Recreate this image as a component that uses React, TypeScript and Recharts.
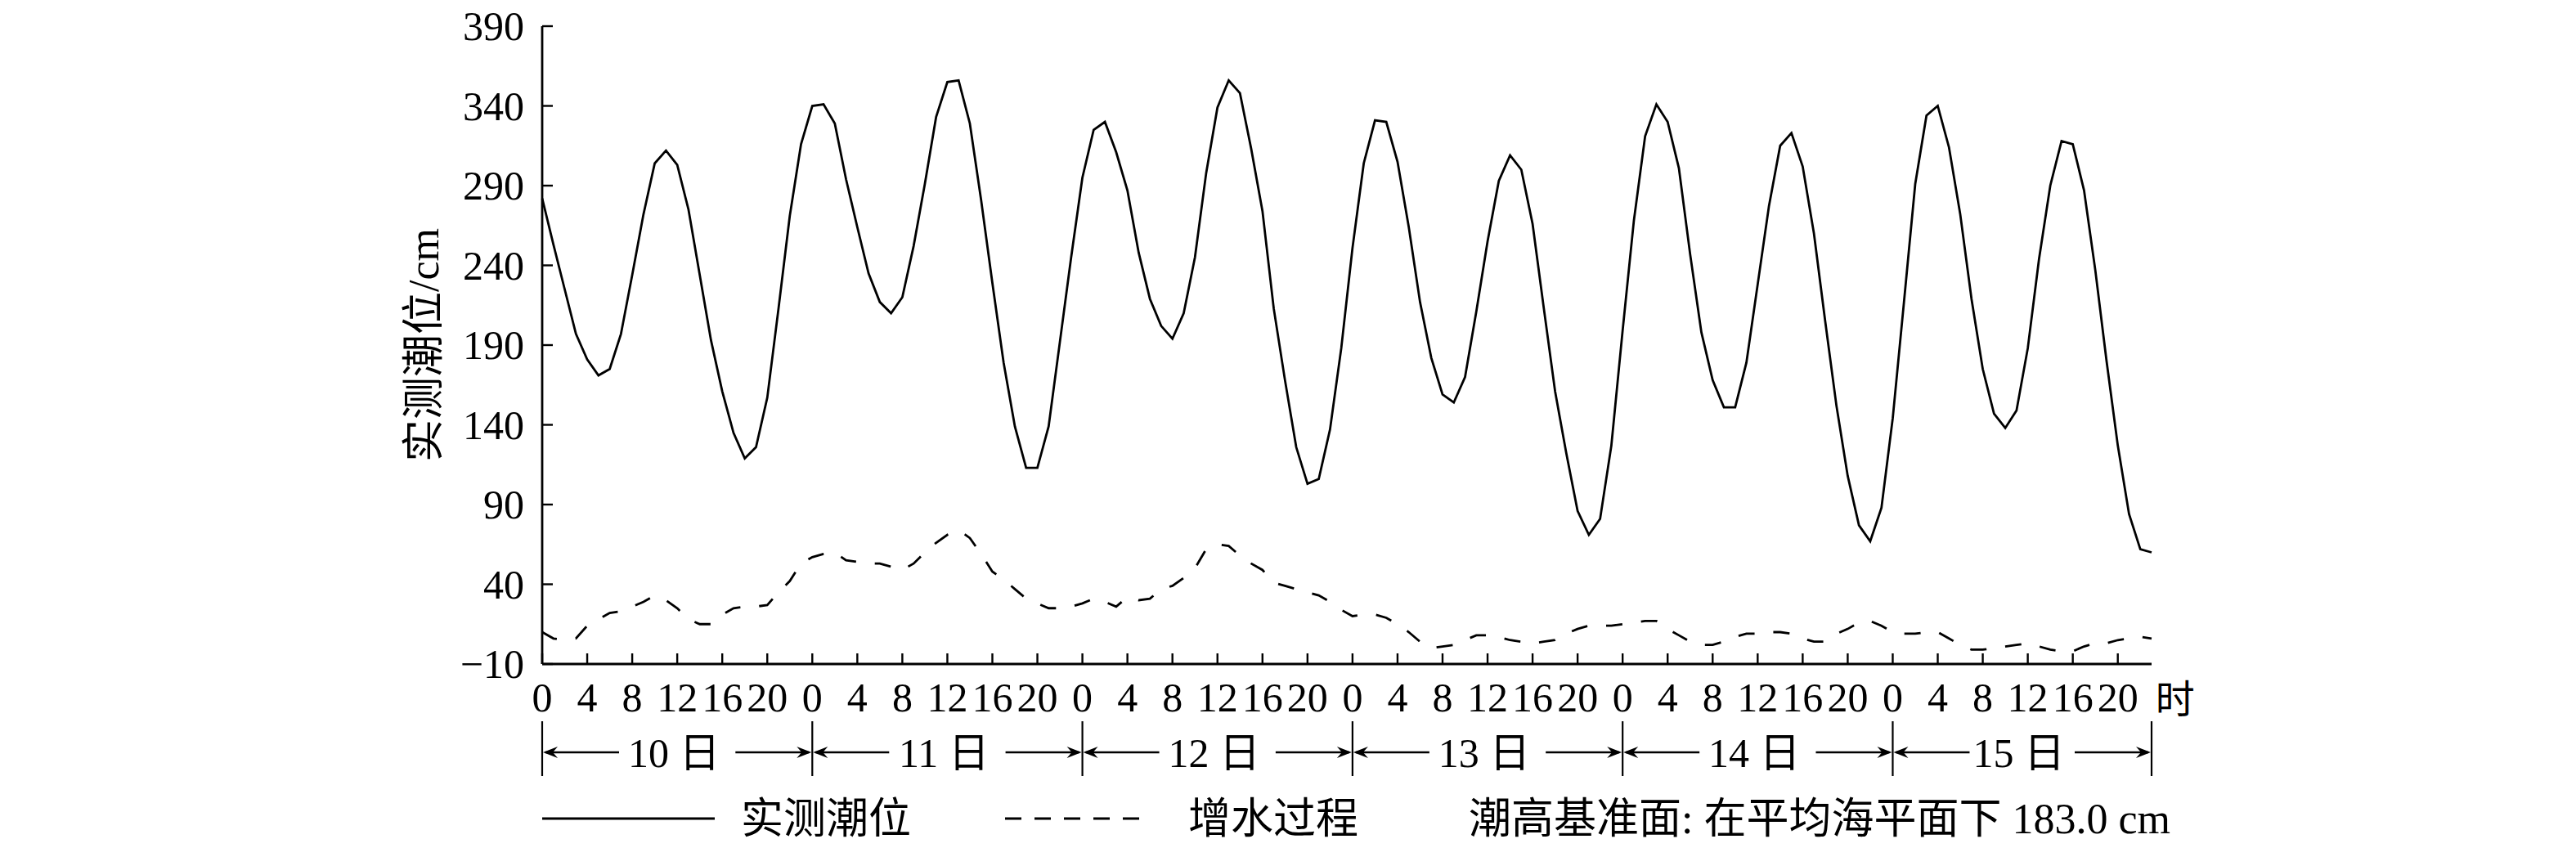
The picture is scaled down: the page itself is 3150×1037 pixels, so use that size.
import React from 'react';
import { LineChart, Line, XAxis, YAxis } from 'recharts';

const FONT = "'Liberation Serif', 'Times New Roman', 'Noto Sans CJK SC', serif";

const DAYS = ['10 日', '11 日', '12 日', '13 日', '14 日', '15 日'];
const HOUR_LABELS = [0, 4, 8, 12, 16, 20];
const Y_TICKS = [-10, 40, 90, 140, 190, 240, 290, 340, 390];
const X_UNIT = '时';
const Y_TITLE = '实测潮位/cm';
const LEGEND_TIDE = '实测潮位';
const LEGEND_SURGE = '增水过程';
const DATUM_NOTE = '潮高基准面: 在平均海平面下 183.0 cm';

// 实测潮位 (cm), hourly from 10日 0时
const TIDE = [
  282, 253, 225, 197, 181, 171, 175, 197, 234, 272, 304, 312, 303, 275, 234, 193, 161, 135, 119, 126, 157, 213, 271, 316,
  340, 341, 329, 294, 264, 235, 217, 210, 220, 252, 291, 333, 355, 356, 329, 281, 229, 179, 139, 113, 113, 139, 192, 245,
  295, 325, 330, 311, 287, 248, 219, 202, 194, 210, 245, 298, 339, 356, 348, 313, 274, 213, 168, 126, 103, 106, 137, 188,
  251, 304, 331, 330, 305, 264, 217, 182, 159, 154, 170, 211, 255, 293, 309, 300, 266, 213, 161, 122, 86, 71, 81, 127,
  199, 268, 321, 341, 330, 301, 247, 198, 168, 151, 151, 179, 228, 277, 315, 323, 302, 260, 205, 152, 108, 77, 67, 88,
  144, 217, 291, 334, 340, 314, 272, 219, 175, 147, 138, 149, 188, 244, 290, 318, 316, 287, 237, 180, 127, 84, 62, 60,
];

// 增水过程 (cm), hourly from 10日 0时
const SURGE = [
  10, 6, 5, 6, 14, 18, 22, 23, 26, 29, 33, 30, 25, 18, 15, 15, 21, 25, 26, 26, 27, 35, 42, 53,
  57, 59, 60, 55, 54, 53, 53, 51, 49, 53, 60, 66, 71, 74, 69, 59, 48, 43, 37, 31, 28, 25, 25, 26,
  28, 31, 29, 26, 32, 30, 31, 37, 39, 44, 50, 62, 65, 64, 58, 53, 49, 41, 39, 37, 35, 33, 29, 24,
  20, 21, 21, 19, 15, 10, 4, 0, 1, 2, 5, 8, 8, 7, 5, 4, 3, 4, 5, 9, 12, 14, 14, 14,
  15, 16, 17, 17, 12, 8, 4, 2, 2, 4, 7, 9, 9, 10, 10, 9, 6, 4, 4, 9, 12, 16, 17, 14,
  10, 9, 9, 10, 10, 6, 2, -1, -1, 0, 1, 2, 3, 1, -1, -2, -2, 1, 3, 3, 5, 6, 7, 6,
];

const HOURS = TIDE.map((_, i) => i);
const data = HOURS.map((h, i) => ({ hour: h, tide: TIDE[i], surge: SURGE[i] }));
const X_MAX = HOURS[HOURS.length - 1];
const HOUR_TICKS = DAYS.flatMap((_, d) => HOUR_LABELS.map((h) => d * 24 + h));
const DAY_BOUNDS = [...DAYS.map((_, d) => d * 24), X_MAX];
const DAY_CENTERS = DAYS.map((_, d) => (DAY_BOUNDS[d] + DAY_BOUNDS[d + 1]) / 2);
const DAY_TICKS = [...DAY_BOUNDS, ...DAY_CENTERS].sort((a, b) => a - b);

const W = 3150;
const H = 1037;

const HourTick = (props: any) => {
  const { x, y, payload } = props;
  const v = payload.value as number;
  return (
    <g>
      <line x1={x} y1={y} x2={x} y2={y - 13} stroke="#000" strokeWidth={2.4} />
      <text x={x} y={y + 58} textAnchor="middle" fontSize={50} fontFamily={FONT} fill="#000">
        {v % 24}
      </text>
      {v === HOUR_TICKS[HOUR_TICKS.length - 1] && (
        <text x={x + 46} y={y + 60} textAnchor="start" fontSize={48} fontFamily={FONT} fill="#000">
          {X_UNIT}
        </text>
      )}
    </g>
  );
};

const arrowHead = (tipX: number, y: number, dir: number) => {
  // dir = -1 : pointing left ; 1 : pointing right
  const b = tipX - dir * 18;
  const n = tipX - dir * 12;
  return `M${tipX},${y} L${b},${y - 7} L${n},${y} L${b},${y + 7} Z`;
};

const DayTick = (props: any) => {
  const { x, y, payload } = props;
  const v = payload.value as number;
  const ay = y + 48;
  const bi = DAY_BOUNDS.indexOf(v);
  if (bi >= 0) {
    const isFirst = bi === 0;
    const isLast = bi === DAY_BOUNDS.length - 1;
    return (
      <g>
        <line x1={x} y1={y + 10} x2={x} y2={y + 77} stroke="#000" strokeWidth={2.2} />
        {!isLast && (
          <g>
            <line x1={x + 4} y1={ay} x2={x + 94} y2={ay} stroke="#000" strokeWidth={2.4} />
            <path d={arrowHead(x + 1, ay, -1)} fill="#000" />
          </g>
        )}
        {!isFirst && (
          <g>
            <line x1={x - 94} y1={ay} x2={x - 4} y2={ay} stroke="#000" strokeWidth={2.4} />
            <path d={arrowHead(x - 1, ay, 1)} fill="#000" />
          </g>
        )}
      </g>
    );
  }
  const ci = DAY_CENTERS.indexOf(v);
  return (
    <text x={x - 4} y={y + 66} textAnchor="middle" fontSize={50} fontFamily={FONT} fill="#000">
      {DAYS[ci]}
    </text>
  );
};

const YTick = (props: any) => {
  const { x, y, payload } = props;
  const v = payload.value as number;
  const label = v < 0 ? '\u2212' + Math.abs(v) : String(v);
  return (
    <g>
      <line x1={x} y1={y} x2={x + 13} y2={y} stroke="#000" strokeWidth={2.4} />
      <text x={x - 22} y={y + 17} textAnchor="end" fontSize={50} fontFamily={FONT} fill="#000">
        {label}
      </text>
    </g>
  );
};

const YTitle = (props: any) => {
  const vb = props.viewBox || {};
  const cx = vb.x + vb.width - 145;
  const cy = vb.y + vb.height / 2;
  return (
    <text
      x={cx}
      y={cy}
      transform={`rotate(-90 ${cx} ${cy})`}
      textAnchor="middle"
      dominantBaseline="central"
      fontSize={52}
      fontFamily={FONT}
      fill="#000"
    >
      {Y_TITLE}
    </text>
  );
};

const LegendOverlay = () => (
  <svg width={W} height={H} style={{ position: 'absolute', left: 0, top: 0, pointerEvents: 'none' }}>
    <line x1={663} y1={1001} x2={874} y2={1001} stroke="#000" strokeWidth={3} />
    <text x={906} y={1019} fontSize={52} fontFamily={FONT} fill="#000">
      {LEGEND_TIDE}
    </text>
    <line x1={1229} y1={1001} x2={1393} y2={1001} stroke="#000" strokeWidth={3} strokeDasharray="20 16" />
    <text x={1453} y={1019} fontSize={52} fontFamily={FONT} fill="#000">
      {LEGEND_SURGE}
    </text>
    <text x={1796} y={1019} fontSize={52} fontFamily={FONT} fill="#000">
      {DATUM_NOTE}
    </text>
  </svg>
);

export default function App() {
  return (
    <div style={{ position: 'absolute', left: 0, top: 0, width: W, height: H, background: '#fff' }}>
      <LineChart
        width={W}
        height={H}
        data={data}
        margin={{ top: 32, right: 519, left: 583, bottom: 85 }}
      >
        <XAxis
          dataKey="hour"
          type="number"
          domain={[0, X_MAX]}
          ticks={HOUR_TICKS}
          interval={0}
          height={60}
          tickSize={0}
          tickMargin={0}
          tickLine={false}
          axisLine={{ stroke: '#000', strokeWidth: 2.8 }}
          tick={<HourTick />}
        />
        <XAxis
          xAxisId="day"
          dataKey="hour"
          type="number"
          domain={[0, X_MAX]}
          ticks={DAY_TICKS}
          interval={0}
          height={80}
          tickSize={0}
          tickMargin={0}
          tickLine={false}
          axisLine={false}
          tick={<DayTick />}
        />
        <YAxis
          type="number"
          domain={[-10, 390]}
          ticks={Y_TICKS}
          interval={0}
          width={80}
          tickSize={0}
          tickMargin={0}
          tickLine={false}
          axisLine={{ stroke: '#000', strokeWidth: 2.8 }}
          tick={<YTick />}
          label={<YTitle />}
        />
        <Line
          type="linear"
          dataKey="tide"
          stroke="#000"
          strokeWidth={2.8}
          dot={false}
          activeDot={false}
          isAnimationActive={false}
        />
        <Line
          type="linear"
          dataKey="surge"
          stroke="#000"
          strokeWidth={2.8}
          strokeDasharray="20 23"
          dot={false}
          activeDot={false}
          isAnimationActive={false}
        />
      </LineChart>
      <LegendOverlay />
    </div>
  );
}
